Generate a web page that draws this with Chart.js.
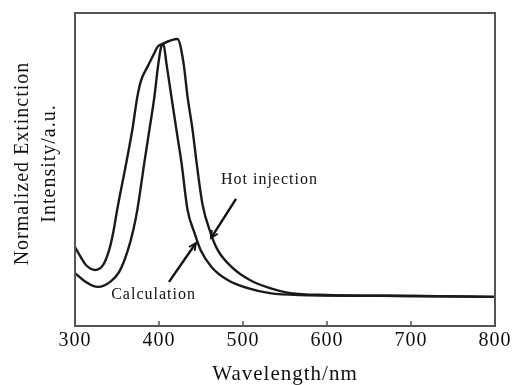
<!DOCTYPE html>
<html>
<head>
<meta charset="utf-8">
<script src="https://cdn.jsdelivr.net/npm/chart.js@4"></script>
<style>
html,body{margin:0;padding:0;background:#fff;}
canvas{display:block;}
</style>
</head>
<body>
<canvas id="c" width="519" height="385"></canvas>
<script>
// Wavelength (nm) and normalized extinction intensity (a.u.)
const hotWavelength = [300, 306, 313, 324, 333.5, 340.7, 345.4, 350.2, 361, 368.2, 374.2, 378.9, 386.1, 394.5, 398, 404, 422, 429.2, 434, 440, 444.8, 451.9, 461.5, 469.8, 486.6, 508.1, 532, 556, 600, 702, 800];
const hotIntensity  = [0.252, 0.224, 0.195, 0.179, 0.195, 0.243, 0.297, 0.371, 0.521, 0.626, 0.732, 0.786, 0.827, 0.872, 0.891, 0.901, 0.917, 0.840, 0.732, 0.626, 0.521, 0.387, 0.297, 0.243, 0.188, 0.147, 0.121, 0.105, 0.099, 0.096, 0.093];

const calcWavelength = [300, 309.6, 321.5, 327.5, 341.9, 352.6, 362.2, 369.4, 374.2, 382.5, 388.5, 394.5, 399.3, 402.9, 405.2, 408.8, 414.8, 420.8, 426.8, 434, 442.3, 449.5, 462.7, 481.8, 505.7, 532, 567.9, 702, 800];
const calcIntensity  = [0.169, 0.147, 0.128, 0.125, 0.141, 0.173, 0.236, 0.307, 0.371, 0.521, 0.626, 0.732, 0.840, 0.895, 0.901, 0.840, 0.732, 0.626, 0.521, 0.371, 0.297, 0.243, 0.188, 0.147, 0.121, 0.105, 0.099, 0.096, 0.093];

const xTicks = [300, 400, 500, 600, 700, 800];

// Annotations in data units: [label, labelX, labelY, arrowFromX, arrowFromY, arrowToX, arrowToY]
const hotLabel  = ["Hot injection", 531.5, 0.466, 491.7, 0.406, 461.9, 0.281];
const calcLabel = ["Calculation", 393.5, 0.099, 411.9, 0.141, 444.0, 0.265];

const SERIF = "'Liberation Serif', 'DejaVu Serif', serif";

function pairs(xs, ys){ return xs.map((x,i)=>({x:x, y:ys[i]})); }

const spacingPlugin = {
  id: 'spacing',
  beforeDraw(chart){ chart.ctx.letterSpacing = '1px'; }
};

const framePlugin = {
  id: 'frame',
  afterDatasetsDraw(chart){
    const {ctx, chartArea:a, scales:{x, y}} = chart;
    ctx.save();
    ctx.strokeStyle = '#555';
    ctx.lineWidth = 2;
    ctx.strokeRect(a.left, a.top, a.right - a.left, a.bottom - a.top);
    ctx.lineWidth = 1.5;
    xTicks.forEach(v => {
      const px = x.getPixelForValue(v);
      ctx.beginPath();
      ctx.moveTo(px, a.bottom);
      ctx.lineTo(px, a.bottom - 5);
      ctx.stroke();
    });
    // annotations
    [hotLabel, calcLabel].forEach(an => {
      const [txt, lx, ly, fx, fy, tx, ty] = an;
      ctx.fillStyle = '#111';
      ctx.font = "16px " + SERIF;
      ctx.letterSpacing = '1px';
      ctx.textAlign = 'center';
      ctx.textBaseline = 'middle';
      ctx.fillText(txt, x.getPixelForValue(lx), y.getPixelForValue(ly));
      const x1 = x.getPixelForValue(fx), y1 = y.getPixelForValue(fy);
      const x2 = x.getPixelForValue(tx), y2 = y.getPixelForValue(ty);
      ctx.strokeStyle = '#111';
      ctx.lineWidth = 2.4;
      ctx.beginPath();
      ctx.moveTo(x1, y1);
      ctx.lineTo(x2, y2);
      ctx.stroke();
      const ang = Math.atan2(y2 - y1, x2 - x1);
      const hl = 8, hw = 0.45;
      ctx.lineWidth = 1.8;
      ctx.beginPath();
      ctx.moveTo(x2 - hl*Math.cos(ang - hw), y2 - hl*Math.sin(ang - hw));
      ctx.lineTo(x2, y2);
      ctx.lineTo(x2 - hl*Math.cos(ang + hw), y2 - hl*Math.sin(ang + hw));
      ctx.stroke();
    });
    ctx.restore();
  }
};

new Chart(document.getElementById('c'), {
  type: 'line',
  data: {
    datasets: [
      { label: 'Hot injection', data: pairs(hotWavelength, hotIntensity),
        borderColor: '#1a1a1a', borderWidth: 2.4, pointRadius: 0, fill: false,
        cubicInterpolationMode: 'monotone' },
      { label: 'Calculation', data: pairs(calcWavelength, calcIntensity),
        borderColor: '#1a1a1a', borderWidth: 2.4, pointRadius: 0, fill: false,
        cubicInterpolationMode: 'monotone' }
    ]
  },
  options: {
    responsive: false,
    animation: false,
    layout: { padding: { top: 13, right: 24, bottom: 0, left: 0 } },
    plugins: { legend: { display: false }, tooltip: { enabled: false } },
    scales: {
      x: {
        type: 'linear', min: 300, max: 800,
        afterBuildTicks(scale){ scale.ticks = xTicks.map(v => ({value: v})); },
        afterFit(scale){ scale.height = 59; },
        grid: { display: false, drawTicks: false },
        border: { display: false },
        ticks: { color: '#111', padding: 3, font: { family: SERIF, size: 20, lineHeight: 1.2 } },
        title: { display: true, text: 'Wavelength/nm', color: '#111',
                 font: { family: SERIF, size: 21, lineHeight: 1.0 }, padding: { top: 0, bottom: 0 } }
      },
      y: {
        min: 0, max: 1,
        afterFit(scale){ scale.width = 75; },
        grid: { display: false, drawTicks: false },
        border: { display: false },
        ticks: { display: false },
        title: { display: true, text: ['  Normalized Extinction', '  Intensity/a.u.'], color: '#111',
                 font: { family: SERIF, size: 20, lineHeight: 1.35 }, padding: { top: 9.5, bottom: 0 } }
      }
    }
  },
  plugins: [spacingPlugin, framePlugin]
});
</script>
</body>
</html>
